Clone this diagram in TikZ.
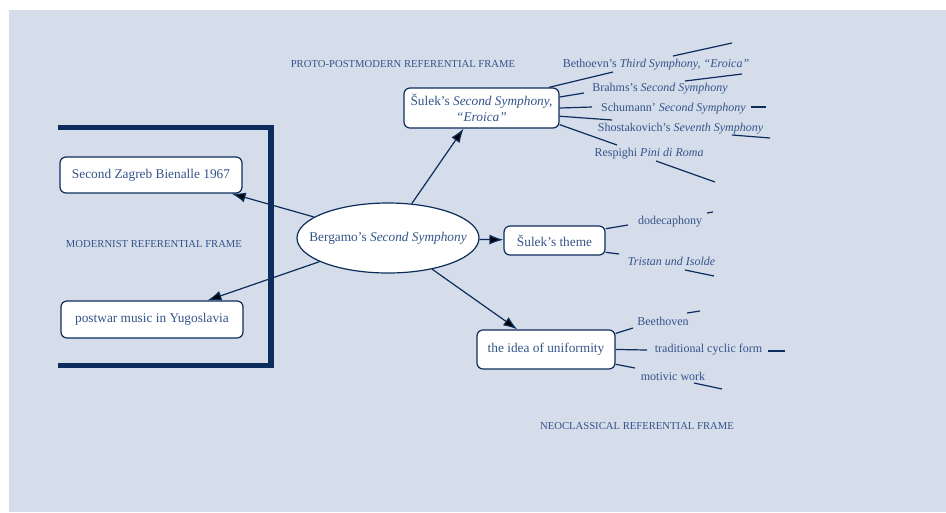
\documentclass[tikz,border=0pt]{standalone}
\usepackage{fontspec}
\setmainfont{Liberation Serif}
\usepackage{tikz}
\usetikzlibrary{arrows.meta, positioning, shapes.geometric}
\usepackage{xcolor}
\definecolor{paper}{HTML}{D5DCEA}
\definecolor{navy}{HTML}{0C2D5C}
\definecolor{ink}{HTML}{34548A}

\begin{document}
\begin{tikzpicture}[x=0.75pt,y=-0.75pt,on grid,auto]
    \tikzstyle{box}=[shape=rectangle,rounded corners=4.5pt,draw=navy,line width=0.9pt,fill=white,text=ink,font=\fontsize{10}{12}\selectfont,align=center,inner sep=2pt]
    \tikzstyle{frame}=[font=\fontsize{8}{10}\selectfont,text=ink,inner sep=0pt]
    \tikzstyle{work}=[font=\fontsize{9}{11}\selectfont,text=ink,inner sep=0pt,text height=6.5pt,text depth=2pt]
    \tikzstyle{branch}=[draw=navy,line width=0.9pt]

    \useasboundingbox (0,0) rectangle (946,512);
    \fill[paper] (9,10) rectangle (946,512);
    \draw[navy,line width=3.8pt] (58,127.5) -| (271,365.5) -- (58,365.5);

    \node[box,shape=ellipse,minimum width=136.5pt,minimum height=52.5pt,inner xsep=-14pt,inner ysep=0pt] (berg) at (388,238) {Bergamo’s \textit{Second Symphony}};
    \node[box,minimum width=136.5pt,minimum height=27pt,above left=47.25pt and 177.75pt of berg] (zag) {Second Zagreb Bienalle 1967};
    \node[box,minimum width=136.5pt,minimum height=27.75pt,below left=61.1pt and 177pt of berg] (post) {postwar music in Yugoslavia};
    \node[box,minimum width=116.25pt,minimum height=30pt,above right=97.5pt and 70.1pt of berg] (sulek) {Šulek’s \textit{Second Symphony,}\\\textit{“Eroica”}};
    \node[box,minimum width=75.75pt,minimum height=21.75pt,below right=1.9pt and 124.9pt of berg] (theme) {Šulek’s theme};
    \node[box,minimum width=103.5pt,minimum height=29.25pt,below right=83.6pt and 118.5pt of berg] (unif) {the idea of uniformity};

    \node[frame] (modern) at (154,244) {MODERNIST REFERENTIAL FRAME};
    \node[frame] (proto) at (403,64) {PROTO-POSTMODERN REFERENTIAL FRAME};
    \node[frame] (neo) at (637,426) {NEOCLASSICAL REFERENTIAL FRAME};

    \node[work] (beth) at (656,64) {Bethoevn’s \textit{Third Symphony, “Eroica”}};
    \node[work] (brahms) at (660,88) {Brahms’s \textit{Second Symphony}};
    \node[work] (schum) at (673.5,108) {Schumann’ \textit{Second Symphony}};
    \node[work] (shost) at (680.5,128) {Shostakovich’s \textit{Seventh Symphony}};
    \node[work] (resp) at (649,153) {Respighi \textit{Pini di Roma}};
    \node[work] (dodec) at (670,221) {dodecaphony};
    \node[work] (trist) at (671.5,262) {\textit{Tristan und Isolde}};
    \node[work] (beeth) at (663,322) {Beethoven};
    \node[work] (cyclic) at (708.5,349) {traditional cyclic form};
    \node[work] (motiv) at (673,377) {motivic work};

    \path[-{Latex[length=10.5pt,width=7.5pt]},draw=navy,line width=0.9pt]
    (berg) edge (sulek.-131)
    (berg) edge (zag.-13)
    (berg) edge (post.19)
    (berg) edge (theme)
    (berg) edge (unif.145)
    ;

    \foreach \n/\x/\y in {b1/613/72, b2/584/93, b3/592/107, b4/612/120, b5/617/145,
                          t1/628/225, t2/619/254, u1/633/328, u2/647/350, u3/635/368}
        \coordinate (\n) at (\x,\y);

    \path[branch]
    (sulek.17) edge (b1)
    (sulek.8) edge (b2)
    (sulek.east) edge (b3)
    (sulek.-6) edge (b4)
    (sulek.-12) edge (b5)
    (theme.13) edge (t1)
    (theme.-13) edge (t2)
    (unif.13) edge (u1)
    (unif.east) edge (u2)
    (unif.-12) edge (u3)
    ;

    \foreach \n/\x/\y/\u/\v in {s1/673/56/732/43, s2/685/81/742/74, s3/751/107/766/107,
                                s4/732/135/770/138, s5/656/161/715/182, s6/707/213/713/212,
                                s7/685/270/714/276, s8/687/313/700/311, s9/768/351/785/351,
                                s10/694/383/722/389} {
        \coordinate (\n-a) at (\x,\y);
        \coordinate (\n-b) at (\u,\v);
        \draw[branch] (\n-a) -- (\n-b);
    }
\end{tikzpicture}
\end{document}
